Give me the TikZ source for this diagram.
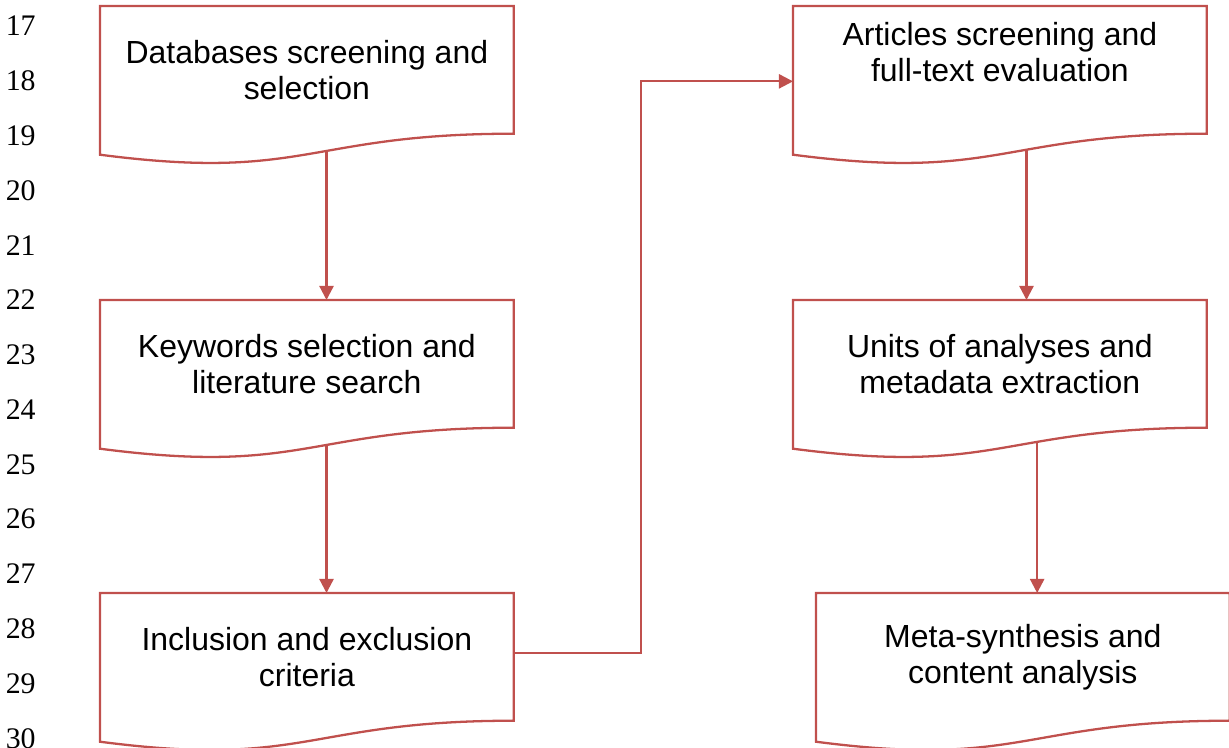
\documentclass[tikz,border=0pt]{standalone}
\usepackage{fontspec}
\setmainfont{Liberation Serif}
\newfontfamily\boxfont{Liberation Sans}
\usetikzlibrary{arrows.meta,calc}

\definecolor{docred}{RGB}{192,80,77}
\def\px{0.02cm}
\tikzstyle{docbox}=[anchor=north west, minimum width=413*\px, minimum height=127*\px, inner sep=0pt, align=center, font=\boxfont\fontsize{18.2}{20.5}\selectfont]
\tikzstyle{docline}=[draw=docred, line width=1.3pt, line join=miter]
\tikzstyle{flow}=[draw=docred, line width=1.3pt, -{Triangle[length=8pt,width=8pt]}]
\tikzstyle{lineno}=[anchor=east, inner sep=0pt, font=\fontsize{17}{19}\selectfont]

% outline of a document box, with a point on its wavy bottom
\newcommand{\docwave}[2]{%
  \draw[docline] (#1.north west) -- (#1.north east) -- (#1.south east)
    .. controls (#1.south) and ($(#1.south)+(0,-48)$) .. ($(#1.south west)+(0,-21)$)
    coordinate[pos=#2] (#1out) -- cycle;}

\begin{document}
\begin{tikzpicture}[x=\px, y=\px]
			\useasboundingbox (0,0) rectangle (1229,-747);
			% line numbers
			\foreach \n [count=\i from 0] in {17,...,30} {
				\node[lineno] (n\n) at (36,{-26-54.8*\i}) {\n};
			}
			% boxes
			\node[docbox] (b1) at (100,-6) {Databases screening and\\selection};
			\node[docbox] (b2) at (100,-300) {Keywords selection and\\literature search};
			\node[docbox] (b3) at (100,-593) {Inclusion and exclusion\\criteria};
			\node[docbox] (b4) at (793,-6) {Articles screening and\\full-text evaluation\\\mbox{}};
			\node[docbox] (b5) at (793,-300) {Units of analyses and\\metadata extraction};
			\node[docbox] (b6) at (816,-593) {Meta-synthesis and\\content analysis};
			\docwave{b1}{0.437}
			\docwave{b2}{0.437}
			\docwave{b3}{0.5}
			\docwave{b4}{0.415}
			\docwave{b5}{0.382}
			\docwave{b6}{0.5}
			% connectors
			\draw[flow] (b1out) -- (b1out |- b2.north);
			\draw[flow] (b2out) -- (b2out |- b3.north);
			\draw[flow] ([yshift=4*\px]b3.east) -- ++(127,0) |- ([yshift=-11.5*\px]b4.west);
			\draw[flow] (b4out) -- (b4out |- b5.north);
			\draw[flow] (b5out) -- (b5out |- b6.north);
		\end{tikzpicture}
\end{document}
